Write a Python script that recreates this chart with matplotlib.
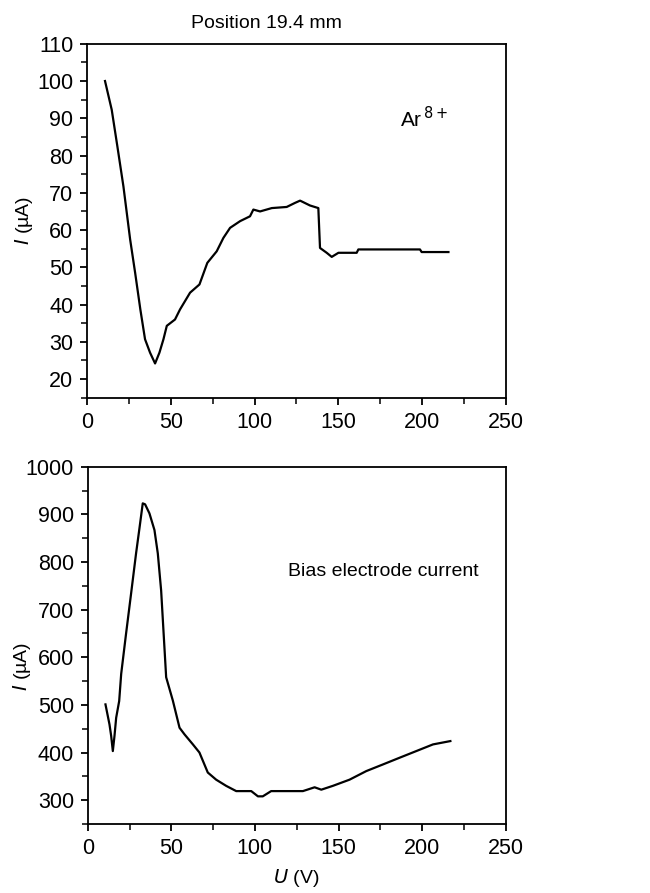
import matplotlib
matplotlib.use("Agg")
import matplotlib.pyplot as plt
from matplotlib.ticker import MultipleLocator

plt.rcParams['font.family'] = ['Liberation Sans', 'DejaVu Sans']

# Top panel: Ar8+ current vs U
u_top = [10.7, 14.7, 18.1, 21.7, 25.7, 28.7, 31.8, 34.6, 37.6, 40.6, 43.2, 45.6,
         47.6, 52.5, 55.5, 61.5, 67.1, 71.8, 77.4, 81.4, 85.4, 91.4, 97.3, 99.3,
         103.3, 110.3, 119.2, 124.2, 127.2, 133.1, 138.1, 139.1, 143.1, 146.1,
         150.1, 161.0, 162.0, 198.8, 199.8, 215.8]
i_top = [100.0, 92.3, 82.4, 71.7, 57.5, 48.5, 38.7, 30.7, 27.1, 24.2, 27.1, 30.7,
         34.3, 36.0, 38.7, 43.2, 45.4, 51.2, 54.3, 57.9, 60.6, 62.4, 63.7, 65.5,
         65.0, 65.9, 66.2, 67.3, 67.9, 66.6, 65.9, 55.2, 53.9, 52.8,
         53.9, 53.9, 54.8, 54.8, 54.1, 54.1]

# Bottom panel: bias electrode current vs U
u_bot = [10.6, 13.0, 14.0, 15.0, 16.0, 17.0, 18.8, 20.0, 22.9, 25.9, 28.9, 30.9,
         32.9, 34.3, 36.9, 39.9, 41.9, 43.9, 46.9, 50.9, 54.9, 57.9, 62.9, 66.8,
         71.8, 76.8, 82.8, 88.8, 97.8, 101.8, 104.7, 109.7, 128.7, 135.7, 139.7,
         146.6, 156.6, 166.6, 176.6, 186.5, 196.5, 206.5, 216.9]
i_bot = [501, 459, 435, 403, 435, 473, 508, 565, 649, 733, 818, 870,
         923, 921, 902, 867, 818, 740, 558, 509, 452, 438, 417, 400,
         358, 343, 330, 319, 319, 308, 308, 319, 319, 327, 322,
         330, 343, 361, 375, 389, 403, 417, 424]

fig = plt.figure(figsize=(6.5, 8.93), dpi=100)
ax1 = fig.add_axes([0.134, 0.5546, 0.644, 0.3964])
ax2 = fig.add_axes([0.135, 0.0773, 0.643, 0.4001])

tick_fs = 15.5
lab_fs = 14

for ax in (ax1, ax2):
    for s in ax.spines.values():
        s.set_linewidth(1.3)
    ax.tick_params(which='major', direction='out', length=5, width=1.3,
                   labelsize=tick_fs, top=False, right=False, pad=5)
    ax.tick_params(which='minor', direction='out', length=4, width=1.1,
                   top=False, right=False)
    ax.set_xlim(0, 250)
    ax.xaxis.set_major_locator(MultipleLocator(50))
    ax.xaxis.set_minor_locator(MultipleLocator(25))

ax1.plot(u_top, i_top, color='black', lw=1.6)
ax1.set_ylim(15, 110)
ax1.yaxis.set_minor_locator(MultipleLocator(5))
ax1.set_yticks([20, 30, 40, 50, 60, 70, 80, 90, 100, 110])
ax1.set_ylabel(r'$I$ (µA)', fontsize=lab_fs)
ax1.yaxis.set_label_coords(-0.125, 0.5)
ax1.text(187, 90, r'Ar$^{\,8+}$', fontsize=lab_fs + 1, ha='left', va='center')
fig.text(0.41, 0.974, 'Position 19.4 mm', fontsize=lab_fs, ha='center', va='center')

ax2.plot(u_bot, i_bot, color='black', lw=1.6)
ax2.set_ylim(250, 1000)
ax2.set_yticks([300, 400, 500, 600, 700, 800, 900, 1000])
ax2.yaxis.set_minor_locator(MultipleLocator(50))
ax2.set_ylabel(r'$I$ (µA)', fontsize=lab_fs)
ax2.yaxis.set_label_coords(-0.13, 0.44)
ax2.set_xlabel(r'$U$ (V)', fontsize=lab_fs, labelpad=6)
ax2.text(120, 779, 'Bias electrode current', fontsize=lab_fs, ha='left', va='center')

fig.savefig('out.png', dpi=100)
